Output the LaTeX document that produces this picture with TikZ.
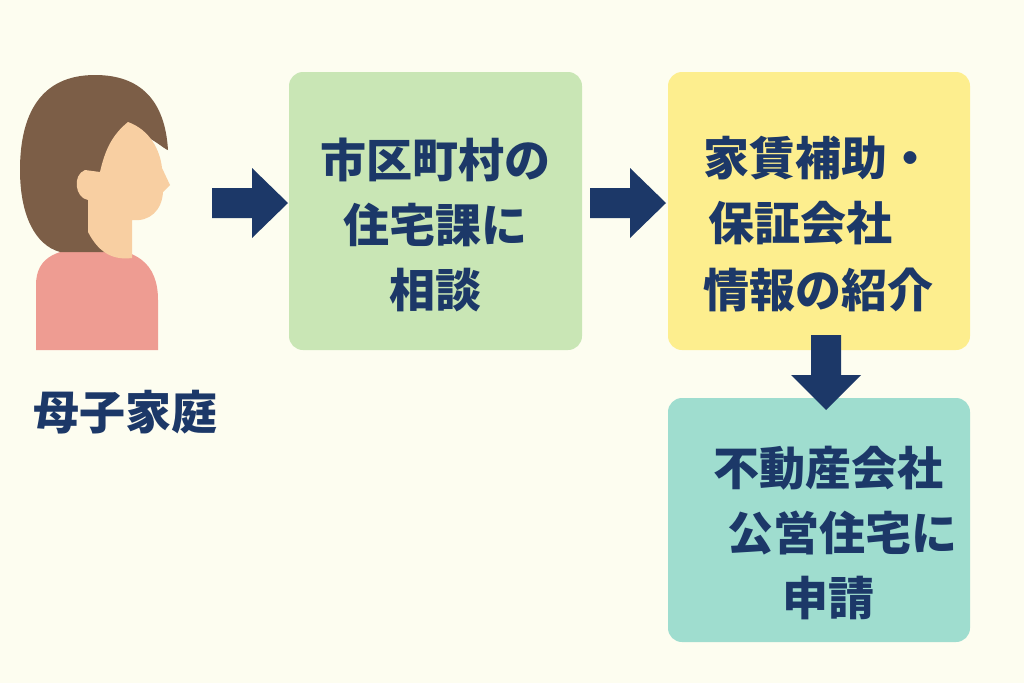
\documentclass[tikz,border=0pt]{standalone}
\usepackage{fontspec}
\newfontfamily\cjk{Noto Sans CJK JP}
\definecolor{bg}{HTML}{FDFDF0}
\definecolor{navy}{HTML}{1C3868}
\definecolor{gbox}{HTML}{C9E6B5}
\definecolor{ybox}{HTML}{FDEE8E}
\definecolor{tbox}{HTML}{9FDDCF}
\definecolor{hair}{HTML}{7C5E47}
\definecolor{skin}{HTML}{F8CFA2}
\definecolor{shirt}{HTML}{EE9C92}
\tikzset{
 txt/.style={text=navy,font=\cjk\bfseries\fontsize{46}{54}\selectfont,inner sep=0},
}
\begin{document}
\begin{tikzpicture}[x=1pt,y=-1pt]
\fill[bg] (0,0) rectangle (1024,683);
\useasboundingbox (0,0) rectangle (1024,683);
% boxes
\fill[gbox,rounded corners=14pt] (289,72) rectangle (582,350);
\fill[ybox,rounded corners=14pt] (668,72) rectangle (970,350);
\fill[tbox,rounded corners=14pt] (668,398) rectangle (970,642);
% arrows
\fill[navy] (212,188) -- (252,188) -- (252,168) -- (288,203) -- (252,238) -- (252,218) -- (212,218) -- cycle;
\fill[navy] (590,188) -- (630,188) -- (630,168) -- (666,203) -- (630,238) -- (630,218) -- (590,218) -- cycle;
\fill[navy] (811,335) -- (841,335) -- (841,375) -- (861,375) -- (826,410) -- (791,375) -- (811,375) -- cycle;
% person
\fill[shirt] (36,350) -- (36,285) .. controls (36,255) and (60,248) .. (95,248) .. controls (135,248) and (158,262) .. (158,300) -- (158,350) -- cycle;
\fill[hair] (95,75) .. controls (40,75) and (20,115) .. (20,170) .. controls (20,215) and (35,245) .. (60,252) -- (120,252) -- (130,130) .. controls (150,135) and (165,150) .. (168,150) .. controls (165,100) and (140,75) .. (95,75) -- cycle;
\fill[skin] (88,232) -- (88,200) .. controls (75,198) and (72,175) .. (85,170) -- (100,172) .. controls (105,150) and (112,135) .. (128,122) .. controls (150,130) and (160,150) .. (162,168) -- (170,185) -- (163,192) .. controls (162,210) and (150,222) .. (132,220) -- (132,258) .. controls (115,260) and (100,255) .. (88,232) -- cycle;
\node[txt] (m) at (125,412) {母子家庭};
\node[txt] at (435,160) {市区町村の};
\node[txt] at (435,225) {住宅課に};
\node[txt] at (435,290) {相談};
\node[txt] at (818,158) {家賃補助・};
\node[txt] at (800,223) {保証会社};
\node[txt] at (818,290) {情報の紹介};
\node[txt] at (828,468) {不動産会社};
\node[txt] at (842,533) {公営住宅に};
\node[txt] at (828,598) {申請};
\end{tikzpicture}
\end{document}
